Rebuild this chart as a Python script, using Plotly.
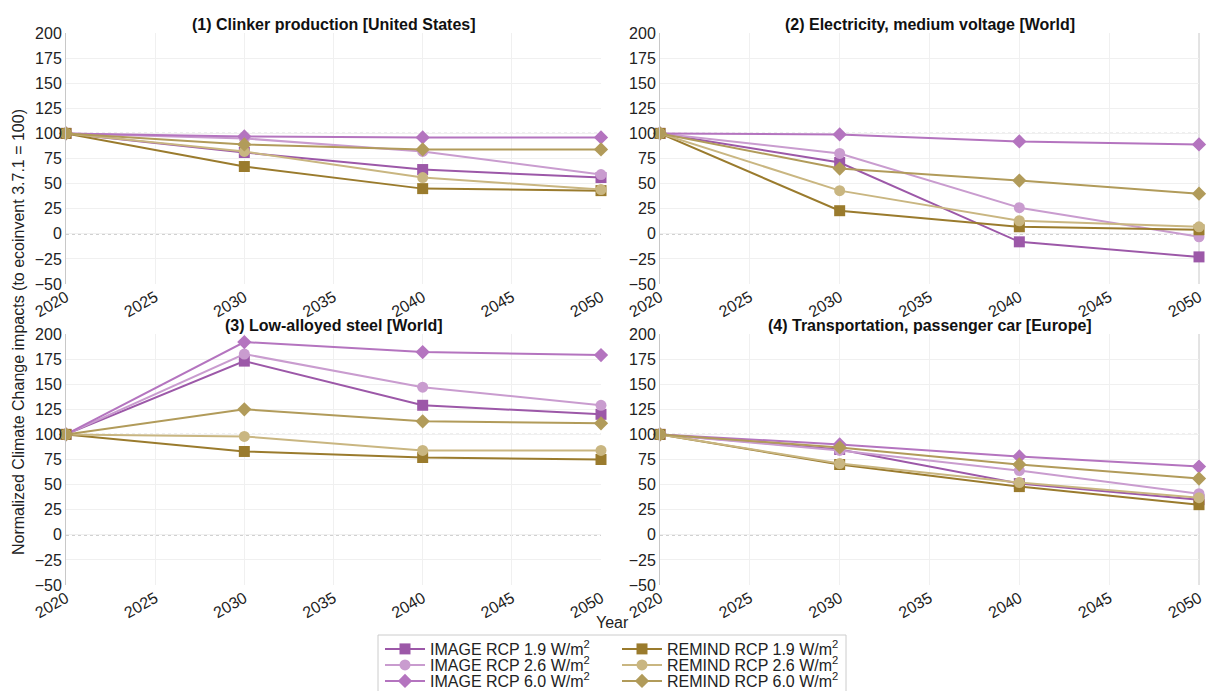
import plotly.graph_objects as go

years = [2020, 2030, 2040, 2050]

panel_titles = [
    "(1) Clinker production [United States]",
    "(2) Electricity, medium voltage [World]",
    "(3) Low-alloyed steel [World]",
    "(4) Transportation, passenger car [Europe]",
]

series_names = [
    "IMAGE RCP 1.9 W/m<sup>2</sup>",
    "IMAGE RCP 2.6 W/m<sup>2</sup>",
    "IMAGE RCP 6.0 W/m<sup>2</sup>",
    "REMIND RCP 1.9 W/m<sup>2</sup>",
    "REMIND RCP 2.6 W/m<sup>2</sup>",
    "REMIND RCP 6.0 W/m<sup>2</sup>",
]

# values per panel, per series (order as series_names)
clinker = [
    [100, 81, 64, 56],
    [100, 95, 82, 59],
    [100, 97, 96, 96],
    [100, 67, 45, 43],
    [100, 82, 56, 44],
    [100, 89, 84, 84],
]
electricity = [
    [100, 71, -8, -23],
    [100, 80, 26, -3],
    [100, 99, 92, 89],
    [100, 23, 7, 4],
    [100, 43, 13, 7],
    [100, 65, 53, 40],
]
steel = [
    [100, 173, 129, 120],
    [100, 180, 147, 129],
    [100, 192, 182, 179],
    [100, 83, 77, 75],
    [100, 98, 84, 84],
    [100, 125, 113, 111],
]
car = [
    [100, 85, 51, 35],
    [100, 84, 64, 41],
    [100, 90, 78, 68],
    [100, 70, 48, 30],
    [100, 71, 52, 37],
    [100, 87, 70, 56],
]
panels = [clinker, electricity, steel, car]

colors = ["#9c58a8", "#c99ccf", "#b474bf", "#9a7b2d", "#c9b681", "#b19b5a"]
symbols = ["square", "circle", "diamond", "square", "circle", "diamond"]

FONT = "Liberation Sans, Arial"
W, H = 1208, 691
xdoms = [[66 / W, 601 / W], [660 / W, 1199 / W]]
ydoms = [[1 - 284 / H, 1 - 33 / H], [1 - 585 / H, 1 - 334 / H]]

# one legend box per entry so the rows can sit as tightly as in the reference
legend_ids = ["legend", "legend2", "legend3", "legend4", "legend5", "legend6"]
legend_x = [380, 380, 380, 617, 617, 617]
legend_yc = [649, 665, 681, 649, 665, 681]

fig = go.Figure()
annotations = []
shapes = []
for p in range(4):
    r, c = divmod(p, 2)
    ax = "" if p == 0 else str(p + 1)
    xa, ya = "x" + ax, "y" + ax
    for s in range(6):
        fig.add_trace(go.Scatter(
            x=years, y=panels[p][s], mode="lines+markers",
            name=series_names[s], legend=legend_ids[s],
            showlegend=(p == 0),
            line=dict(color=colors[s], width=2),
            marker=dict(symbol=symbols[s], size=11, color=colors[s]),
            cliponaxis=False, xaxis=xa, yaxis=ya,
        ))
    axis_common = dict(showgrid=True, gridcolor="#f0f0f0", zeroline=False, automargin=False,
                       tickfont=dict(family=FONT, size=16, color="#222"))
    fig.layout["xaxis" + ax] = dict(
        domain=xdoms[c], anchor=ya, range=[2020, 2050], tickmode="array",
        tickvals=[2020, 2025, 2030, 2035, 2040, 2045, 2050], tickangle=-30,
        showline=False, ticks="", **axis_common)
    fig.layout["yaxis" + ax] = dict(
        domain=ydoms[r], anchor=xa, range=[-50, 200], tickmode="array",
        tickvals=[-50, -25, 0, 25, 50, 75, 100, 125, 150, 175, 200],
        ticktext=["\u221250", "\u221225", "0", "25", "50", "75", "100", "125", "150", "175", "200"],
        showline=True, linecolor="#c8c8c8", linewidth=1, ticks="", ticklen=0, **axis_common)
    for yv in (100, 0):
        shapes.append(dict(type="line", xref=xa + " domain", yref=ya, x0=0, x1=1, y0=yv, y1=yv,
                           line=dict(color="#666", width=1, dash="dot"), layer="below"))
    if c == 1:
        shapes.append(dict(type="line", xref=xa + " domain", yref=ya + " domain", x0=1, x1=1, y0=0, y1=1,
                           line=dict(color="#c8c8c8", width=1), layer="below"))
    annotations.append(dict(
        text="<b>" + panel_titles[p] + "</b>", xref="paper", yref="paper",
        x=(xdoms[c][0] + xdoms[c][1]) / 2, y=ydoms[r][1] - 2 / H, xanchor="center", yanchor="bottom",
        showarrow=False, font=dict(family=FONT, size=16, color="#111")))

annotations.append(dict(
    text="Normalized Climate Change impacts (to ecoinvent 3.7.1 = 100)", xref="paper", yref="paper",
    x=18 / W, y=1 - 332 / H, textangle=-90, showarrow=False, xanchor="center", yanchor="middle",
    font=dict(family=FONT, size=16, color="#222")))
annotations.append(dict(
    text="Year", xref="paper", yref="paper", x=612 / W, y=1 - 622 / H, showarrow=False,
    xanchor="center", yanchor="middle", font=dict(family=FONT, size=16, color="#222")))

# legend frame
shapes.append(dict(type="rect", xref="paper", yref="paper", x0=378 / W, x1=846 / W,
                   y0=-0.01, y1=1 - 635 / H, line=dict(color="#cccccc", width=1),
                   fillcolor="rgba(0,0,0,0)", layer="above"))

layout_legends = {}
for i, lid in enumerate(legend_ids):
    layout_legends[lid] = dict(
        orientation="v", xanchor="left", yanchor="middle",
        x=legend_x[i] / W, y=1 - legend_yc[i] / H,
        bgcolor="rgba(0,0,0,0)", borderwidth=0, itemwidth=40,
        font=dict(family=FONT, size=16, color="#222"))

fig.update_layout(
    width=W, height=H, margin=dict(l=0, r=0, t=0, b=0, autoexpand=False),
    plot_bgcolor="white", paper_bgcolor="white",
    annotations=annotations, shapes=shapes,
    **layout_legends,
)

fig.write_html("out.html")
